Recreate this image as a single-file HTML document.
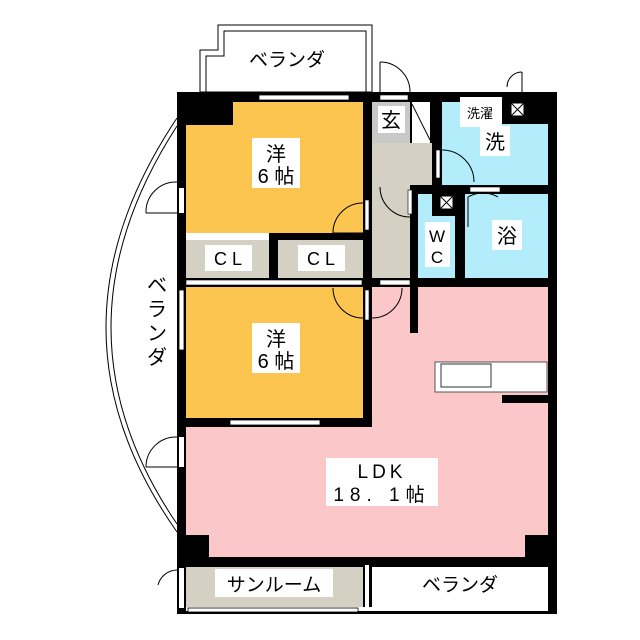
<!DOCTYPE html>
<html><head><meta charset="utf-8"><style>
html,body{margin:0;padding:0;background:#fff}
svg{display:block}
text{font-family:"Liberation Sans","Noto Sans CJK JP",sans-serif;fill:#000}
</style></head><body>
<svg width="640" height="640" viewBox="0 0 640 640" xmlns="http://www.w3.org/2000/svg">
<rect width="640" height="640" fill="#fff"/>
<polygon points="200,92 200,50 218,50 218,25 372,25 372,92" fill="#fff" stroke="#000" stroke-width="1"/>
<polygon points="206,92 206,56 224,56 224,31 366,31 366,92" fill="none" stroke="#000" stroke-width="1"/>
<text x="287" y="66" font-size="19" text-anchor="middle">ベランダ</text>
<path d="M177,118 Q35,330 177,532" fill="none" stroke="#000" stroke-width="1"/>
<path d="M177,126 Q45,330 177,524" fill="none" stroke="#000" stroke-width="1"/>
<text x="157" y="292" font-size="20" text-anchor="middle">ベ</text>
<text x="157" y="316" font-size="20" text-anchor="middle">ラ</text>
<text x="157" y="340" font-size="20" text-anchor="middle">ン</text>
<text x="157" y="364" font-size="20" text-anchor="middle">ダ</text>
<rect x="177" y="92" width="380" height="522" fill="#000"/>
<rect x="186" y="102" width="177" height="131" fill="#fbc54f"/>
<rect x="186" y="240" width="83" height="38" fill="#d4d0c4"/>
<rect x="278" y="240" width="85" height="38" fill="#d4d0c4"/>
<rect x="186" y="233" width="83" height="7" fill="#fff"/>
<rect x="186" y="287" width="177" height="131" fill="#fbc54f"/>
<rect x="372" y="287" width="176" height="140" fill="#fcc7c8"/>
<rect x="186" y="427" width="362" height="130" fill="#fcc7c8"/>
<rect x="410" y="287" width="8" height="46" fill="#000"/>
<rect x="372" y="102" width="38" height="41" fill="#c8c8c8"/>
<rect x="412" y="102" width="18" height="41" fill="#fff"/>
<line x1="412" y1="104" x2="430" y2="140" stroke="#000"/>
<rect x="372" y="143" width="60" height="42" fill="#d4d0c4"/>
<rect x="372" y="185" width="38" height="93" fill="#d4d0c4"/>
<rect x="442" y="102" width="106" height="83" fill="#b3ecfb"/>
<rect x="502" y="92" width="46" height="32" fill="#000"/>
<rect x="418" y="194" width="37" height="84" fill="#b3ecfb"/>
<rect x="465" y="194" width="83" height="84" fill="#b3ecfb"/>
<rect x="432" y="194" width="23" height="22" fill="#000"/>
<rect x="186" y="567" width="177" height="40" fill="#d4d0c4"/>
<rect x="372" y="567" width="176" height="40" fill="#fff"/>
<rect x="186" y="607" width="362" height="4" fill="#fff"/>
<rect x="363" y="567" width="9" height="40" fill="#000"/>
<rect x="365" y="565" width="4" height="42" fill="#fff"/>
<rect x="177" y="92" width="56" height="33" fill="#000"/>
<rect x="177" y="535" width="32" height="30" fill="#000"/>
<rect x="525" y="535" width="32" height="30" fill="#000"/>
<rect x="259" y="95" width="90" height="5" fill="#fff" stroke="#000" stroke-width="0.8"/>
<rect x="230" y="420" width="90" height="5" fill="#fff" stroke="#000" stroke-width="0.8"/>
<rect x="188" y="608" width="170" height="4" fill="#fff" stroke="#000" stroke-width="0.8"/>
<rect x="179" y="290" width="5" height="60" fill="#fff" stroke="#000" stroke-width="0.8"/>
<rect x="179" y="188" width="5" height="25" fill="#fff"/>
<rect x="179" y="437" width="5" height="30" fill="#fff"/>
<rect x="179" y="568" width="5" height="40" fill="#fff"/>
<g fill="none" stroke="#000" stroke-width="1">
<path d="M380,62 A30,30 0 0 1 410,92 M380,62 L380,92"/>
<path d="M507,87 A15,15 0 0 1 522,72 M522,72 L522,92"/>
<path d="M363,203 A30,30 0 0 0 333,233 M333,233 L363,233"/>
<path d="M363,318 A30,30 0 0 1 333,288"/>
<path d="M372,318 A30,30 0 0 0 402,288"/>
<path d="M442,150 A32,32 0 0 1 474,182"/>
<path d="M410,217 A30,30 0 0 1 380,187"/>
<path d="M468,197 A30,30 0 0 1 498,197 M468,197 L468,227"/>
<path d="M177,182 A30,30 0 0 0 146,213 M146,213 L177,213"/>
<path d="M177,437 A30,30 0 0 0 146,467 M146,467 L177,467"/>
<path d="M177,570 A20,20 0 0 0 158,585"/>
</g>
<rect x="408" y="190" width="4" height="24" fill="#fff" stroke="#000" stroke-width="0.6"/>
<rect x="436" y="150" width="4" height="28" fill="#fff" stroke="#000" stroke-width="0.6"/>
<rect x="470" y="187" width="30" height="5" fill="#fff" stroke="#000" stroke-width="0.6"/>
<rect x="380" y="280" width="30" height="5" fill="#fff" stroke="#000" stroke-width="0.6"/>
<rect x="365" y="200" width="4" height="30" fill="#fff" stroke="#000" stroke-width="0.6"/>
<rect x="365" y="290" width="4" height="30" fill="#fff" stroke="#000" stroke-width="0.6"/>
<rect x="186" y="280" width="176" height="5" fill="#fff" stroke="#000" stroke-width="0.6"/>
<rect x="380" y="95" width="28" height="5" fill="#fff" stroke="#000" stroke-width="0.6"/>
<g stroke="#000" fill="#fff"><rect x="511" y="103" width="13" height="13"/><line x1="511" y1="103" x2="524" y2="116"/><line x1="524" y1="103" x2="511" y2="116"/>
<rect x="440" y="196" width="13" height="13"/><line x1="440" y1="196" x2="453" y2="209"/><line x1="453" y1="196" x2="440" y2="209"/></g>
<rect x="435" y="362" width="112" height="30" fill="#fff" stroke="#555"/>
<rect x="441" y="364" width="50" height="23" fill="#fff" stroke="#333"/>
<rect x="502" y="395" width="46" height="8" fill="#000"/>
<rect x="252" y="138" width="48" height="50" fill="#fff"/>
<text x="276" y="161" font-size="20" text-anchor="middle">洋</text>
<text x="276" y="183" font-size="20" text-anchor="middle">6 帖</text>
<rect x="252" y="323" width="48" height="50" fill="#fff"/>
<text x="276" y="346" font-size="20" text-anchor="middle">洋</text>
<text x="276" y="368" font-size="20" text-anchor="middle">6 帖</text>
<rect x="205" y="245" width="47" height="26" fill="#fff"/><text x="228" y="265" font-size="18" text-anchor="middle">C L</text>
<rect x="298" y="245" width="47" height="26" fill="#fff"/><text x="321" y="265" font-size="18" text-anchor="middle">C L</text>
<rect x="378" y="106" width="27" height="27" fill="#fff"/><text x="391" y="127" font-size="20" text-anchor="middle">玄</text>
<rect x="460" y="97" width="42" height="30" fill="#fff"/><text x="480" y="118" font-size="13" text-anchor="middle">洗濯</text>
<rect x="480" y="126" width="30" height="30" fill="#fff"/><text x="495" y="149" font-size="20" text-anchor="middle">洗</text>
<rect x="425" y="222" width="25" height="45" fill="#fff"/><text x="437" y="242" font-size="17" text-anchor="middle">W</text><text x="437" y="263" font-size="17" text-anchor="middle">C</text>
<rect x="492" y="220" width="30" height="30" fill="#fff"/><text x="507" y="243" font-size="20" text-anchor="middle">浴</text>
<rect x="326" y="458" width="112" height="48" fill="#fff"/>
<text x="382" y="478" font-size="19" text-anchor="middle" letter-spacing="4">LDK</text>
<text x="382" y="501" font-size="19" text-anchor="middle" letter-spacing="6">18. 1帖</text>
<rect x="215" y="569" width="118" height="28" fill="#fff"/><text x="274" y="591" font-size="19" text-anchor="middle">サンルーム</text>
<text x="460" y="591" font-size="19" text-anchor="middle">ベランダ</text>
</svg>
</body></html>
